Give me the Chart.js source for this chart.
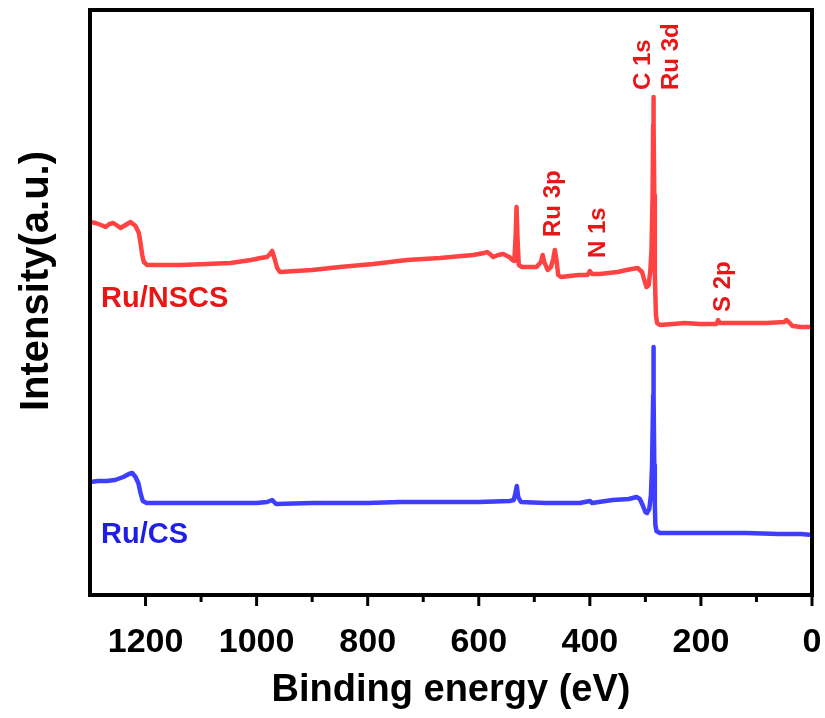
<!DOCTYPE html>
<html>
<head>
<meta charset="utf-8">
<script src="https://cdn.jsdelivr.net/npm/chart.js@4/dist/chart.umd.min.js"></script>
<style>
  html, body { margin: 0; padding: 0; background: #fff; }
  canvas { display: block; }
</style>
</head>
<body>
<canvas id="c" width="825" height="718"></canvas>
<script>
// ---- data (binding energy in eV, intensity in arbitrary units) ----
const nscsEnergy = [1300,1290,1280,1272,1265,1258,1250,1245,1236,1227,1218,1212,1209,1206,1203,1197,1170,1137,1090,1047,1010,993,981,976,972,968,963,958,900,850,790,729,670,610,590,585,578,574,565,556,545,539,536,533.5,532,530.5,528,522,496,488,485,482,476,470,466,463,460,457,452,420,404,400,396,382,350,334,314,306,302,298,294,291,289,287,286,285.5,285,284,283,281,279,274,250,230,202,172,169,166,120,82,50,46,42,35,20,4,0];
const nscsIntensity = [373,372,370,368,371,372,369,367,370,373,369,362,352,340,333,330,330,330,331,332,335,337,338,341,344,337,327,323,325,328,331,335,337,340,342,343,340,338,340,341,338,335,334,360,388,360,330,328,328,333,340,333,325,328,336,345,335,320,318,320,320,324,321,321,323,325,327,323,315,308,310,325,345,400,470,498,470,400,320,280,272,270,271,272,271,271,275,272,272,272,273,275,273,269,268,268,267];

const csEnergy = [1300,1285,1270,1255,1240,1230,1224,1218,1213,1209,1205,1198,1150,1078,1000,981,972,965,900,800,742,650,600,544,537,534,531.5,529,524,480,418,400,396,359,330,316,310,305,300,297,293,290,288,286,285.5,285,284,283,282,280,274,200,118,60,20,0];
const csIntensity = [113,114,114,115,118,121,122,118,112,102,94,92,92,92,92,93,95,91,92,92,93,93,93,94,95,102,109,98,93,92,92,94,92,95,96,98,96,90,83,82,86,100,130,200,248,200,130,90,70,64,62,62,62,61,61,60];

const xTickValues = [0,200,400,600,800,1000,1200];

const seriesNames = ['Ru/NSCS', 'Ru/CS'];
const peakLabels = ['Ru 3p', 'N 1s', 'S 2p', 'C 1s', 'Ru 3d'];
const peakLabelEnergy = [454, 373, 148, 292, 241];
const peakLabelIntensity = [358, 337, 283, 505, 505];
const seriesLabelEnergy = [1280, 1280];
const seriesLabelIntensity = [288, 52];

// ---- styles ----
const FONT = '"Liberation Sans", Arial, sans-serif';
const RED_LINE = 'rgb(255,66,66)';
const RED_TEXT = 'rgb(232,22,22)';
const BLUE_LINE = 'rgb(62,62,255)';
const BLUE_TEXT = 'rgb(30,30,228)';

function pts(xs, ys) { return xs.map((x, i) => ({ x: x, y: ys[i] })); }

const decor = {
  id: 'decor',
  afterDatasetsDraw(chart) {
    const ctx = chart.ctx;
    const xs = chart.scales.x, ys = chart.scales.y;
    ctx.save();
    // peak labels (rotated)
    ctx.font = 'bold 24px ' + FONT;
    ctx.fillStyle = RED_TEXT;
    ctx.textAlign = 'left';
    ctx.textBaseline = 'alphabetic';
    peakLabels.forEach((t, i) => {
      const px = xs.getPixelForValue(peakLabelEnergy[i]);
      const py = ys.getPixelForValue(peakLabelIntensity[i]);
      ctx.save();
      ctx.translate(px, py);
      ctx.rotate(-Math.PI / 2);
      ctx.fillText(t, 0, 0);
      ctx.restore();
    });
    // series labels
    ctx.font = 'bold 29px ' + FONT;
    [RED_TEXT, BLUE_TEXT].forEach((c, i) => {
      ctx.fillStyle = c;
      ctx.fillText(seriesNames[i], xs.getPixelForValue(seriesLabelEnergy[i]), ys.getPixelForValue(seriesLabelIntensity[i]));
    });
    ctx.restore();
  },
  afterDraw(chart) {
    const ctx = chart.ctx;
    const xs = chart.scales.x;
    const a = chart.chartArea;
    ctx.save();
    ctx.strokeStyle = '#000';
    ctx.lineWidth = 4;
    ctx.strokeRect(a.left, a.top, a.right - a.left, a.bottom - a.top);
    // tick marks (major every 200, minor every 100)
    ctx.lineWidth = 3;
    for (let v = 0; v <= 1200; v += 100) {
      const px = xs.getPixelForValue(v);
      const len = (v % 200 === 0) ? 11 : 7;
      ctx.beginPath();
      ctx.moveTo(px, a.bottom);
      ctx.lineTo(px, a.bottom + len);
      ctx.stroke();
    }
    // y axis title
    ctx.font = 'bold 40px ' + FONT;
    ctx.fillStyle = '#000';
    ctx.textAlign = 'center';
    ctx.textBaseline = 'alphabetic';
    ctx.translate(48, 281);
    ctx.rotate(-Math.PI / 2);
    ctx.fillText('Intensity(a.u.)', 0, 0);
    ctx.restore();
  }
};

new Chart(document.getElementById('c'), {
  type: 'line',
  data: {
    datasets: [
      { label: seriesNames[0], data: pts(nscsEnergy, nscsIntensity), borderColor: RED_LINE, borderWidth: 4.5, borderJoinStyle: 'round', borderCapStyle: 'round', pointRadius: 0, tension: 0, fill: false },
      { label: seriesNames[1], data: pts(csEnergy, csIntensity), borderColor: BLUE_LINE, borderWidth: 4.5, borderJoinStyle: 'round', borderCapStyle: 'round', pointRadius: 0, tension: 0, fill: false }
    ]
  },
  options: {
    responsive: false,
    devicePixelRatio: 1,
    animation: false,
    layout: { padding: { left: 90, right: 13, top: 10, bottom: 0 } },
    plugins: { legend: { display: false }, tooltip: { enabled: false } },
    scales: {
      x: {
        type: 'linear',
        reverse: true,
        min: 0,
        max: 1300,
        grid: { display: false, drawTicks: false },
        border: { display: false },
        afterBuildTicks(scale) { scale.ticks = xTickValues.map(v => ({ value: v })); },
        ticks: {
          autoSkip: false,
          maxRotation: 0,
          minRotation: 0,
          padding: 27,
          color: '#000',
          callback: (v) => String(v),
          font: { family: FONT, size: 34, weight: 'bold', lineHeight: 1.2 }
        },
        title: {
          display: true,
          text: 'Binding energy (eV)',
          color: '#000',
          font: { family: FONT, size: 38, weight: 'bold', lineHeight: 1.2 },
          padding: { top: 0, bottom: 5 }
        },
        afterFit(scale) { scale.height = 123; }
      },
      y: {
        type: 'linear',
        display: false,
        min: 0,
        max: 585
      }
    }
  },
  plugins: [decor]
});
</script>
</body>
</html>
